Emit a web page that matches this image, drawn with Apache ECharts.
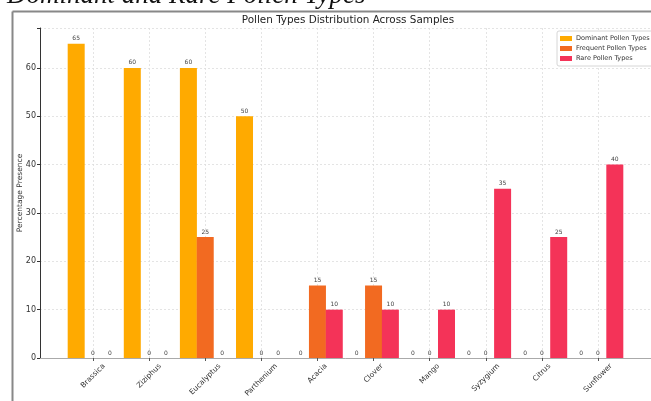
<!DOCTYPE html>
<html>
<head>
<meta charset="utf-8">
<script src="https://cdn.jsdelivr.net/npm/echarts@6/dist/echarts.min.js"></script>
<style>
html,body{margin:0;padding:0;background:#fff;}
#chart{width:651px;height:401px;}
</style>
</head>
<body>
<div id="chart"></div>
<script>
const categories = ['Brassica','Ziziphus','Eucalyptus','Parthenium','Acacia','Clover','Mango','Syzygium','Citrus','Sunflower'];
const dominant = [65, 60, 60, 50, 0, 0, 0, 0, 0, 0];
const frequent = [0, 0, 25, 0, 15, 15, 0, 0, 0, 0];
const rare = [0, 0, 0, 0, 10, 10, 10, 35, 25, 40];
const seriesNames = ['Dominant Pollen Types','Frequent Pollen Types','Rare Pollen Types'];
const yTicks = [0, 10, 20, 30, 40, 50, 60];

const FONT = '"DejaVu Sans", sans-serif';
const colors = ['#FFAA00', '#F26A21', '#F43358'];
const barOffset = 0.3;   // bar width in category units
const xLabelSize = 7.4;

// measure label widths for matplotlib-like centred rotated labels
const ctx = document.createElement('canvas').getContext('2d');
ctx.font = xLabelSize + 'px "DejaVu Sans"';
const rich = {};
categories.forEach((c, i) => {
  const L = ctx.measureText(c).width;
  const p = L / 2;
  rich['c' + i] = { padding: [p, p, 0, 0], fontSize: xLabelSize, fontFamily: FONT, color: '#333' };
});

function mk(vals, off) { return vals.map((v, i) => [i + off, v]); }

const chart = echarts.init(document.getElementById('chart'), null, { renderer: 'canvas' });
const labelCfg = { show: true, position: 'top', distance: 2, fontSize: 6, color: '#444', fontFamily: FONT };

chart.setOption({
  animation: false,
  backgroundColor: '#fff',
  title: {
    text: 'Pollen Types Distribution Across Samples',
    left: 343, top: 10, textAlign: 'center',
    textStyle: { fontSize: 10.4, fontWeight: 'normal', color: '#222', fontFamily: FONT }
  },
  graphic: [
    { type: 'text', left: 7, top: -18, style: { text: 'Dominant and Rare Pollen Types', font: 'italic 27px "Liberation Serif"', fill: '#111' }, z: 100 },
    { type: 'line', shape: { x1: 12.5, y1: 11.5, x2: 651, y2: 11.5 }, style: { stroke: '#888', lineWidth: 2 }, z: 100 },
    { type: 'line', shape: { x1: 12.5, y1: 11.5, x2: 12.5, y2: 401 }, style: { stroke: '#888', lineWidth: 2 }, z: 100 }
  ],
  legend: {
    orient: 'vertical', left: 557, top: 31,
    padding: [4, 6, 4, 3], itemGap: 3, itemWidth: 12, itemHeight: 5,
    borderColor: '#ccc', borderWidth: 0.8, borderRadius: 2, backgroundColor: '#fff',
    icon: 'rect',
    textStyle: { fontSize: 6.5, color: '#333', fontFamily: FONT, padding: [0, 0, 0, -1] },
    data: seriesNames
  },
  grid: { left: 40, top: 28, width: 619, height: 330, containLabel: false },
  xAxis: {
    type: 'value', min: -0.945, max: 9.945,
    axisLine: { show: true, onZero: false, lineStyle: { color: '#aaa', width: 1 } },
    axisTick: { show: true, customValues: categories.map((c, i) => i), length: 3, lineStyle: { color: '#555' } },
    axisLabel: {
      customValues: categories.map((c, i) => i),
      rotate: 45, align: 'center', verticalAlign: 'middle', margin: 7,
      fontSize: xLabelSize, fontFamily: FONT, color: '#333',
      formatter: v => { const i = Math.round(v); return '{c' + i + '|' + categories[i] + '}'; },
      rich: rich
    },
    splitLine: { show: true, lineStyle: { color: '#ddd', type: [2, 2], width: 0.8 } }
  },
  yAxis: {
    type: 'value', min: 0, max: 68.25, interval: 10,
    name: 'Percentage Presence', nameLocation: 'middle', nameGap: 16, nameMoveOverlap: false,
    nameTextStyle: { fontSize: 7.5, color: '#333', fontFamily: FONT },
    axisLine: { show: true, onZero: false, lineStyle: { color: '#333', width: 1 } },
    axisTick: { show: true, length: 3, lineStyle: { color: '#333' } },
    axisLabel: { fontSize: 8, color: '#333', fontFamily: FONT, margin: 4,
      formatter: v => (yTicks.indexOf(v) >= 0 ? String(v) : '') },
    splitLine: { show: true, lineStyle: { color: '#ddd', type: [2, 2], width: 0.8 } }
  },
  series: [
    { name: seriesNames[0], type: 'bar', data: mk(dominant, -barOffset), barWidth: 17, barGap: '-100%', itemStyle: { color: colors[0] }, label: labelCfg },
    { name: seriesNames[1], type: 'bar', data: mk(frequent, 0), barWidth: 17, barGap: '-100%', itemStyle: { color: colors[1] }, label: labelCfg },
    { name: seriesNames[2], type: 'bar', data: mk(rare, barOffset), barWidth: 17, barGap: '-100%', itemStyle: { color: colors[2] }, label: labelCfg }
  ]
});
</script>
</body>
</html>
